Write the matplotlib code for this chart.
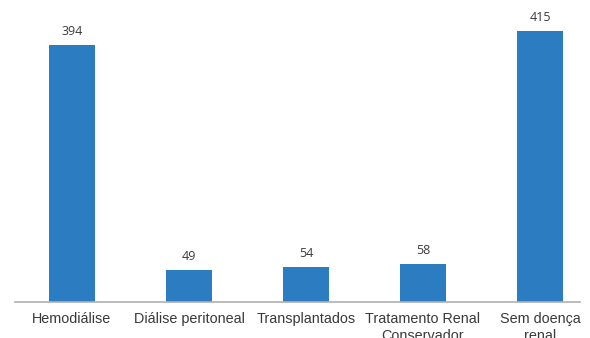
import matplotlib
matplotlib.use("Agg")
import matplotlib.pyplot as plt

categories = ["Hemodiálise", "Diálise peritoneal", "Transplantados",
              "Tratamento Renal\nConservador", "Sem doença\nrenal"]
values = [394, 49, 54, 58, 415]

fig = plt.figure(figsize=(5.9, 3.38), dpi=100)
ax = fig.add_axes([15/590, 36/338, 565/590, 302/338])

x = list(range(len(categories)))
bars = ax.bar(x, values, width=0.4, color="#2b7cc1", zorder=2)

ax.set_xlim(-0.487, 4.342)
ax.set_ylim(0, 462.8)

for xi, v in zip(x, values):
    ax.annotate(str(v), (xi, v), xytext=(0, 5), textcoords="offset points",
                ha="center", va="bottom", fontsize=9, color="#3a3a3a",
                family="Open Sans")

ax.set_xticks(x)
ax.set_xticklabels(categories, fontsize=10.4, color="#3a3a3a",
                   family="Liberation Sans", linespacing=1.3)
ax.tick_params(axis="x", length=0, pad=7)
ax.set_yticks([])
for s in ["top", "right", "left"]:
    ax.spines[s].set_visible(False)
ax.spines["bottom"].set_color("#b0b0b0")
ax.spines["bottom"].set_linewidth(1.2)

fig.savefig("out.png", dpi=100)
